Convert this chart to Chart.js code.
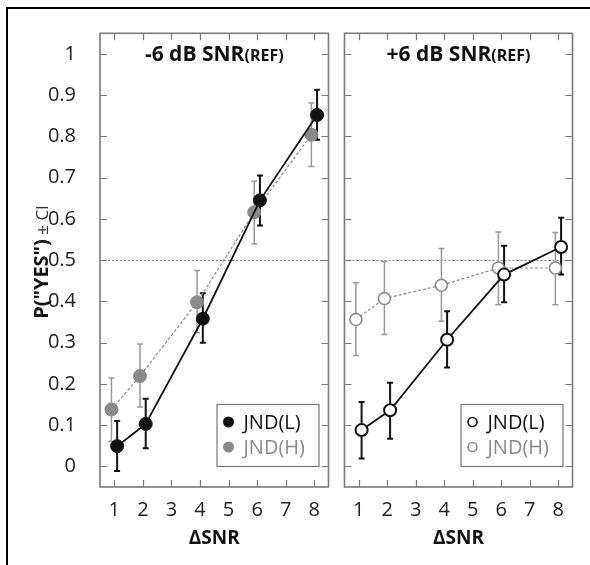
<!DOCTYPE html>
<html><head><meta charset="utf-8">
<script src="https://cdn.jsdelivr.net/npm/chart.js@4.4.0/dist/chart.umd.min.js"></script>
<style>
html,body{margin:0;padding:0;background:#fff;overflow:hidden;width:590px;height:565px;}
#frame{position:absolute;left:6px;top:7px;width:640px;height:640px;border:2px solid #000;}
#wrapA{position:absolute;left:0;top:0;width:336px;height:565px;}
#wrapB{position:absolute;left:336px;top:0;width:254px;height:565px;}
canvas{display:block;}
</style></head><body>
<div id="frame"></div>
<div id="wrapA"><canvas id="cA" width="336" height="565"></canvas></div>
<div id="wrapB"><canvas id="cB" width="254" height="565"></canvas></div>
<script>
// ---------- data ----------
const snrLevels = [1, 2, 4, 6, 8];
const xTicks = [1, 2, 3, 4, 5, 6, 7, 8];
const yTicks = [0, 0.1, 0.2, 0.3, 0.4, 0.5, 0.6, 0.7, 0.8, 0.9, 1];
const seriesLabels = ['JND(L)', 'JND(H)'];
const panelTitles = ['-6 dB SNR', '+6 dB SNR'];
const titleSuffix = '(REF)';
const refLevel = 0.5;
const jitter = [0.1, -0.1];

// -6 dB SNR(REF)
const negL   = [0.049, 0.103, 0.358, 0.645, 0.852];
const negLlo = [-0.011, 0.044, 0.300, 0.584, 0.792];
const negLhi = [0.110, 0.164, 0.420, 0.705, 0.913];
const negH   = [0.138, 0.219, 0.398, 0.616, 0.804];
const negHlo = [0.061, 0.144, 0.324, 0.540, 0.727];
const negHhi = [0.214, 0.297, 0.475, 0.692, 0.881];

// +6 dB SNR(REF)
const posL   = [0.088, 0.136, 0.307, 0.465, 0.532];
const posLlo = [0.019, 0.067, 0.240, 0.398, 0.465];
const posLhi = [0.156, 0.203, 0.376, 0.535, 0.603];
const posH   = [0.356, 0.407, 0.439, 0.481, 0.481];
const posHlo = [0.269, 0.320, 0.352, 0.392, 0.392];
const posHhi = [0.445, 0.497, 0.528, 0.568, 0.567];

// ---------- styling ----------
const FONT = "'Open Sans', 'Noto Sans', sans-serif";
const BLACK = '#111111';
const GRAY = '#8a8a8a';
const GRAY_BAR = '#9a9a9a';

function makeDatasets(l, lo1, hi1, h, lo2, hi2, filled) {
  return [
    {
      label: seriesLabels[0],
      data: snrLevels.map((s, i) => ({ x: s + jitter[0], y: l[i] })),
      errLo: lo1, errHi: hi1, barColor: BLACK, barWidth: 2,
      showLine: true, borderColor: BLACK, borderWidth: 1.8,
      pointBackgroundColor: filled ? BLACK : '#ffffff',
      pointBorderColor: BLACK, pointBorderWidth: filled ? 1 : 2,
      pointRadius: filled ? 6.5 : 6, pointHoverRadius: 6.5
    },
    {
      label: seriesLabels[1],
      data: snrLevels.map((s, i) => ({ x: s + jitter[1], y: h[i] })),
      errLo: lo2, errHi: hi2, barColor: GRAY_BAR, barWidth: 1.5,
      showLine: true, borderColor: GRAY, borderWidth: 1.2, borderDash: [3, 2],
      pointBackgroundColor: filled ? GRAY : '#ffffff',
      pointBorderColor: GRAY, pointBorderWidth: filled ? 1 : 1.6,
      pointRadius: filled ? 6.5 : 6, pointHoverRadius: 6.5
    }
  ];
}

const panelPlugin = {
  id: 'panel',
  beforeDatasetsDraw(chart, args, opts) {
    const { ctx, chartArea: a, scales: { x, y } } = chart;
    ctx.save();
    // reference line
    ctx.strokeStyle = '#7a7a7a'; ctx.lineWidth = 1; ctx.setLineDash([2, 2]);
    const yr = Math.round(y.getPixelForValue(refLevel)) + 0.5;
    ctx.beginPath(); ctx.moveTo(a.left, yr); ctx.lineTo(a.right, yr); ctx.stroke();
    ctx.setLineDash([]);
    // frame
    ctx.strokeStyle = '#7a7a7a'; ctx.lineWidth = 1.6;
    ctx.strokeRect(a.left, a.top, a.right - a.left, a.bottom - a.top);
    // inward ticks
    const L = 7;
    ctx.lineWidth = 1.2;
    ctx.beginPath();
    xTicks.forEach(v => {
      const px = Math.round(x.getPixelForValue(v)) + 0.5;
      ctx.moveTo(px, a.bottom); ctx.lineTo(px, a.bottom - L);
      ctx.moveTo(px, a.top); ctx.lineTo(px, a.top + L);
    });
    yTicks.forEach(v => {
      const py = Math.round(y.getPixelForValue(v)) + 0.5;
      ctx.moveTo(a.left, py); ctx.lineTo(a.left + L, py);
      ctx.moveTo(a.right, py); ctx.lineTo(a.right - L, py);
    });
    ctx.stroke();
    // error bars (drawn under the markers)
    const cap = 3;
    chart.data.datasets.slice().reverse().forEach(ds => {
      ctx.strokeStyle = ds.barColor; ctx.lineWidth = ds.barWidth;
      ctx.beginPath();
      ds.data.forEach((p, i) => {
        const px = x.getPixelForValue(p.x);
        const y1 = y.getPixelForValue(ds.errLo[i]);
        const y2 = y.getPixelForValue(ds.errHi[i]);
        ctx.moveTo(px, y1); ctx.lineTo(px, y2);
        ctx.moveTo(px - cap, y1); ctx.lineTo(px + cap, y1);
        ctx.moveTo(px - cap, y2); ctx.lineTo(px + cap, y2);
      });
      ctx.stroke();
    });
    ctx.restore();
  },
  afterDraw(chart, args, opts) {
    const { ctx, chartArea: a } = chart;
    ctx.save();
    // panel title with smaller suffix
    const f1 = `bold 21px ${FONT}`, f2 = `bold 16px ${FONT}`;
    ctx.font = f1; const w1 = ctx.measureText(opts.title).width;
    ctx.font = f2; const w2 = ctx.measureText(titleSuffix).width;
    const cx = (a.left + a.right) / 2;
    let tx = cx - (w1 + w2) / 2;
    const base = a.top + 28;
    ctx.fillStyle = BLACK; ctx.textBaseline = 'alphabetic'; ctx.textAlign = 'left';
    ctx.font = f1; ctx.fillText(opts.title, tx, base);
    ctx.font = f2; ctx.fillText(titleSuffix, tx + w1, base);

    // legend box inside plot
    const bw = 102, bh = 62;
    const bx = a.right - 10 - bw, by = a.bottom - 21 - bh;
    ctx.strokeStyle = '#777'; ctx.lineWidth = 1.2;
    ctx.fillStyle = '#fff';
    ctx.fillRect(bx, by, bw, bh);
    ctx.strokeRect(bx + 0.5, by + 0.5, bw, bh);
    ctx.font = `20px ${FONT}`; ctx.textBaseline = 'middle';
    chart.data.datasets.forEach((ds, i) => {
      const ry = by + 18 + i * 25;
      const mx = bx + 12;
      ctx.beginPath();
      ctx.arc(mx, ry, opts.filled ? 5.5 : 4.5, 0, Math.PI * 2);
      if (opts.filled) { ctx.fillStyle = ds.pointBackgroundColor; ctx.fill(); }
      else { ctx.fillStyle = '#fff'; ctx.fill(); ctx.strokeStyle = ds.pointBorderColor; ctx.lineWidth = 1.6; ctx.stroke(); }
      ctx.fillStyle = ds.pointBorderColor;
      ctx.fillText(ds.label, bx + 27, ry + 1);
    });

    // y axis title (left panel only)
    if (opts.yTitle) {
      const fa = `bold 20px ${FONT}`, fb = `17px ${FONT}`;
      const ta = 'P("YES")', tb = ' \u00B1 CI';
      ctx.font = fa; const wa = ctx.measureText(ta).width;
      ctx.font = fb; const wb = ctx.measureText(tb).width;
      ctx.translate(48, 262);
      ctx.rotate(-Math.PI / 2);
      ctx.textBaseline = 'alphabetic'; ctx.textAlign = 'left';
      const sx = -(wa + wb) / 2;
      ctx.fillStyle = BLACK; ctx.font = fa; ctx.fillText(ta, sx, 0);
      ctx.fillStyle = '#333'; ctx.font = fb; ctx.fillText(tb, sx + wa, 0);
    }
    ctx.restore();
  }
};

function makeChart(id, datasets, panelOpts, padding, showY) {
  return new Chart(document.getElementById(id), {
    type: 'scatter',
    data: { datasets },
    plugins: [panelPlugin],
    options: {
      responsive: false, animation: false, devicePixelRatio: 1,
      layout: { padding },
      plugins: { legend: { display: false }, tooltip: { enabled: false }, panel: panelOpts },
      scales: {
        x: {
          type: 'linear', min: 0.5, max: 8.5,
          afterBuildTicks: s => { s.ticks = xTicks.map(v => ({ value: v })); },
          grid: { display: false }, border: { display: false },
          ticks: { font: { family: FONT, size: 20 }, color: '#222', padding: 3, maxRotation: 0, autoSkip: false },
          title: { display: true, text: '\u0394SNR', font: { family: FONT, size: 19, weight: 'bold' }, color: BLACK, padding: { top: 0, bottom: 15 } },
          afterFit: s => { s.height = 78; }
        },
        y: {
          type: 'linear', min: -0.05, max: 1.05, display: showY,
          afterBuildTicks: s => { s.ticks = yTicks.map(v => ({ value: v })); },
          grid: { display: false }, border: { display: false },
          ticks: { font: { family: FONT, size: 20 }, color: '#222', padding: 16,
                   callback: v => (v === 0 ? '0' : v === 1 ? '1' : v.toFixed(1)) },
          afterFit: s => { s.width = showY ? 100 : 0; }
        }
      }
    }
  });
}

makeChart('cA', makeDatasets(negL, negLlo, negLhi, negH, negHlo, negHhi, true),
  { title: panelTitles[0], filled: true, yTitle: true },
  { left: 0, right: 3.5, top: 33.3, bottom: 0 }, true);
makeChart('cB', makeDatasets(posL, posLlo, posLhi, posH, posHlo, posHhi, false),
  { title: panelTitles[1], filled: false, yTitle: false },
  { left: 2, right: 17.5, top: 33.3, bottom: 0 }, false);
</script>
</body></html>
